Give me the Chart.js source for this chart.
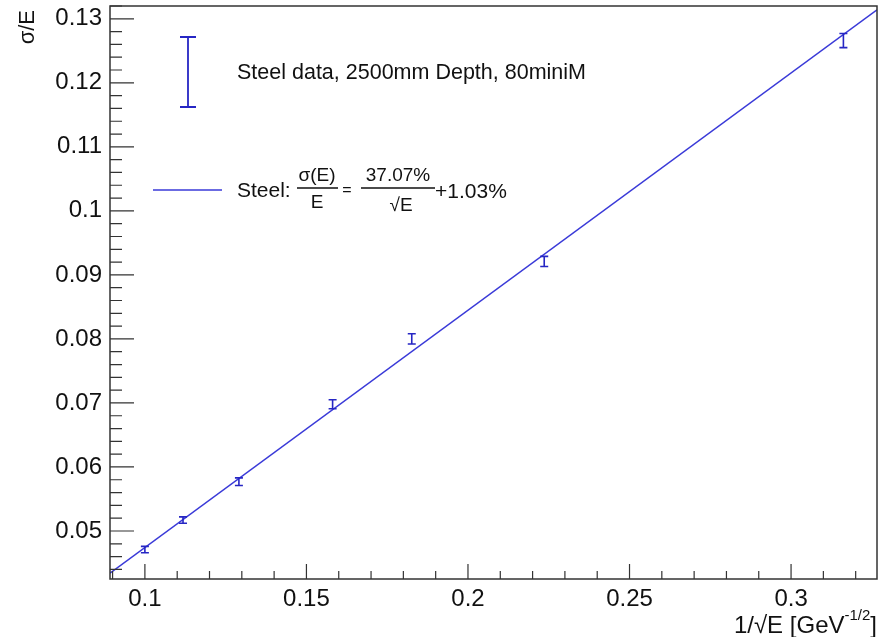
<!DOCTYPE html>
<html>
<head>
<meta charset="utf-8">
<script src="https://cdn.jsdelivr.net/npm/chart.js@4/dist/chart.umd.min.js"></script>
<style>
  html, body { margin: 0; padding: 0; background: #fff; }
  #wrap { width: 879px; height: 637px; }
</style>
</head>
<body>
<div id="wrap"><canvas id="resChart" width="879" height="637"></canvas></div>
<script>
//! =============== Data =============== //
// 1/sqrt(E) for 100, 80, 60, 40, 30, 20, 10 GeV
const invSqrtE   = [0.1, 0.1118, 0.1291, 0.1581, 0.1826, 0.2236, 0.3162];
const sigmaOverE = [0.0471, 0.0517, 0.0577, 0.0698, 0.0800, 0.0921, 0.1266];
const sigmaErr   = [0.0005, 0.0005, 0.0006, 0.0007, 0.0008, 0.0008, 0.0011];

// fit line end points
const fitX = [0.0892, 0.3266];
const fitY = [0.0434, 0.1314];

const xTicks = [0.1, 0.15, 0.2, 0.25, 0.3];
const yTicks = [0.05, 0.06, 0.07, 0.08, 0.09, 0.1, 0.11, 0.12, 0.13];

const X_MIN = 0.0892, X_MAX = 0.3266;
const Y_MIN = 0.0425, Y_MAX = 0.1320;

const BLUE = '#3a3ad8';
const BAR_BLUE = '#2626c4';
const FONT = '"Liberation Sans", Arial, Helvetica, sans-serif';


//! =============== Plugin: ROOT-ish frame, ticks, error bars, legend =============== //
const rootStyle = {
  id: 'rootStyle',
  afterDatasetsDraw(chart) {
    const { ctx, chartArea: a, scales: { x, y } } = chart;
    ctx.save();

    // error bars
    ctx.strokeStyle = BAR_BLUE;
    ctx.lineWidth = 1.6;
    invSqrtE.forEach((v, i) => {
      const px = x.getPixelForValue(v);
      const top = y.getPixelForValue(sigmaOverE[i] + sigmaErr[i]);
      const bot = y.getPixelForValue(sigmaOverE[i] - sigmaErr[i]);
      ctx.beginPath();
      ctx.moveTo(px, top); ctx.lineTo(px, bot);
      ctx.moveTo(px - 4, top); ctx.lineTo(px + 4, top);
      ctx.moveTo(px - 4, bot); ctx.lineTo(px + 4, bot);
      ctx.stroke();
    });

    // frame
    ctx.strokeStyle = '#333';
    ctx.lineWidth = 1.5;
    ctx.strokeRect(a.left, a.top, a.right - a.left, a.bottom - a.top);

    // ticks (inside the frame)
    ctx.lineWidth = 1.2;
    ctx.beginPath();
    for (let k = 9; k <= 32; k++) {
      const px = x.getPixelForValue(k / 100);
      const len = k % 5 === 0 ? 15 : 8;
      ctx.moveTo(px, a.bottom); ctx.lineTo(px, a.bottom - len);
    }
    for (let k = 22; k <= 66; k++) {
      const py = y.getPixelForValue(k / 500);
      const len = k % 5 === 0 ? 24 : 12;
      ctx.moveTo(a.left, py); ctx.lineTo(a.left + len, py);
    }
    ctx.stroke();

    // legend: error bar entry
    ctx.strokeStyle = BAR_BLUE;
    ctx.lineWidth = 1.8;
    ctx.beginPath();
    ctx.moveTo(188, 37); ctx.lineTo(188, 107);
    ctx.moveTo(180, 37); ctx.lineTo(196, 37);
    ctx.moveTo(180, 107); ctx.lineTo(196, 107);
    ctx.stroke();

    ctx.fillStyle = '#111';
    ctx.textBaseline = 'middle';
    ctx.textAlign = 'left';
    ctx.font = '21.5px ' + FONT;
    ctx.fillText('Steel data, 2500mm Depth, 80miniM', 237, 73);

    // legend: fit entry
    ctx.strokeStyle = BLUE;
    ctx.lineWidth = 1.5;
    ctx.beginPath();
    ctx.moveTo(153, 190); ctx.lineTo(222, 190);
    ctx.stroke();

    ctx.font = '21px ' + FONT;
    ctx.fillText('Steel:', 237, 191);
    ctx.font = '19px ' + FONT;
    ctx.textAlign = 'center';
    ctx.fillText('\u03c3(E)', 317, 176);
    ctx.fillText('E', 317, 203);
    ctx.font = '16px ' + FONT;
    ctx.fillText('=', 347, 191);
    ctx.font = '19px ' + FONT;
    ctx.fillText('37.07%', 398, 176);
    ctx.fillText('\u221aE', 401, 206);
    ctx.lineWidth = 1.3;
    ctx.strokeStyle = '#111';
    ctx.beginPath();
    ctx.moveTo(297, 188); ctx.lineTo(338, 188);
    ctx.moveTo(361, 188); ctx.lineTo(435, 188);
    ctx.stroke();
    ctx.textAlign = 'left';
    ctx.font = '21px ' + FONT;
    ctx.fillText('+1.03%', 435, 192);

    // axis titles
    ctx.fillStyle = '#111';
    ctx.font = '24px ' + FONT;
    ctx.textBaseline = 'alphabetic';
    const supFont = '15px ' + FONT;
    let xr = 877;
    ctx.textAlign = 'right';
    ctx.fillText(']', xr, 633);
    xr -= ctx.measureText(']').width;
    ctx.font = supFont;
    ctx.fillText('-1/2', xr, 620);
    xr -= ctx.measureText('-1/2').width;
    ctx.font = '24px ' + FONT;
    ctx.fillText('1/\u221aE [GeV', xr, 633);

    ctx.translate(34, 10);
    ctx.rotate(-Math.PI / 2);
    ctx.textAlign = 'right';
    ctx.font = '22px ' + FONT;
    ctx.fillText('\u03c3/E', 0, 0);

    ctx.restore();
  }
};


//! =============== Chart =============== //
const ctx = document.getElementById('resChart').getContext('2d');

const resChart = new Chart(ctx, {
  type: 'scatter',
  data: {
    datasets: [
      {
        label: 'Steel data',
        data: invSqrtE.map((v, i) => ({ x: v, y: sigmaOverE[i] })),
        pointRadius: 0,
        showLine: false
      },
      {
        label: 'Fit',
        data: fitX.map((v, i) => ({ x: v, y: fitY[i] })),
        showLine: true,
        borderColor: BLUE,
        borderWidth: 1.5,
        pointRadius: 0,
        fill: false
      }
    ]
  },
  options: {
    responsive: false,
    animation: false,
    layout: { padding: { top: 6, right: 2, left: 0, bottom: 0 } },
    plugins: {
      legend: { display: false },
      tooltip: { enabled: false }
    },
    scales: {
      x: {
        type: 'linear',
        min: X_MIN,
        max: X_MAX,
        grid: { display: false, drawTicks: false },
        border: { display: false },
        afterBuildTicks: (s) => { s.ticks = xTicks.map(v => ({ value: v })); },
        afterFit: (s) => { s.height = 58; s.paddingLeft = 0; s.paddingRight = 0; },
        ticks: {
          padding: 6,
          color: '#111',
          font: { size: 24, family: FONT },
          maxRotation: 0,
          callback: v => String(+v.toFixed(3))
        }
      },
      y: {
        type: 'linear',
        min: Y_MIN,
        max: Y_MAX,
        grid: { display: false, drawTicks: false },
        border: { display: false },
        afterBuildTicks: (s) => { s.ticks = yTicks.map(v => ({ value: v })); },
        afterFit: (s) => { s.width = 110; s.paddingTop = 0; s.paddingBottom = 0; },
        ticks: {
          padding: 8,
          color: '#111',
          font: { size: 24, family: FONT },
          callback: v => String(+v.toFixed(3))
        }
      }
    }
  },
  plugins: [rootStyle]
});
</script>
</body>
</html>
